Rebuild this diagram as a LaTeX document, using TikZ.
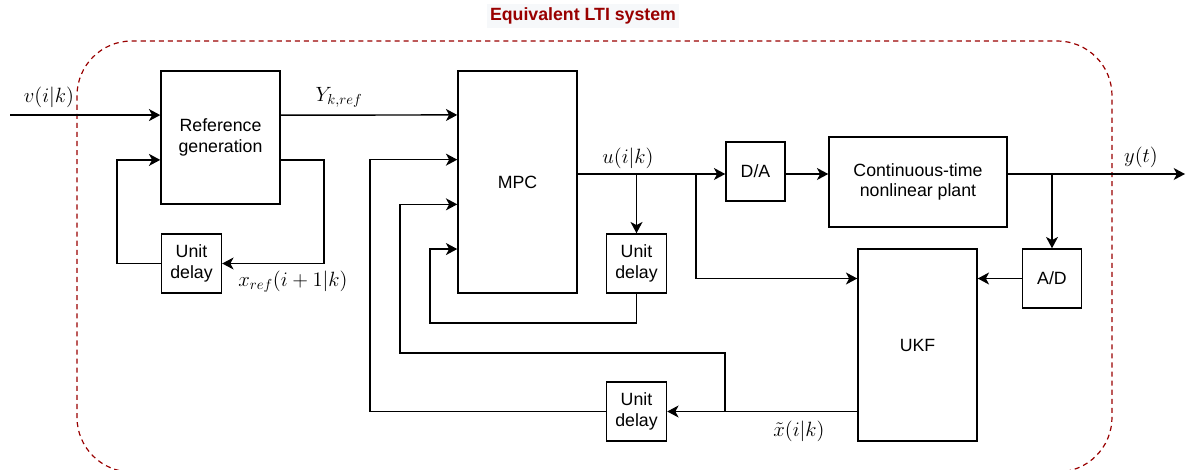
\RequirePackage{fix-cm}
\documentclass[tikz,border=0pt]{standalone}
\usepackage{fontspec}
\setmainfont{Liberation Sans}
\usetikzlibrary{arrows.meta, positioning, calc}
\definecolor{ltired}{HTML}{990000}
\definecolor{titlebg}{HTML}{F6F8FA}

\begin{document}
\begin{tikzpicture}[
  x=0.75pt, y=-0.75pt,
  font=\fontsize{13.3}{15.3}\selectfont,
  blk/.style  ={draw, line width=1.1pt, align=center, inner sep=1pt},
  dly/.style  ={blk, minimum width=45pt, minimum height=44.25pt},
  conv/.style ={blk, minimum width=44.25pt, minimum height=44.25pt},
  % signal lines ---------------------------------------------------
  arr/.style  ={line width=1.1pt, -{Stealth[length=8.5pt, width=9pt, inset=2.4pt]}},
  lbl/.style  ={font=\fontsize{15.5}{18}\selectfont, inner sep=1pt},
]
\useasboundingbox (0,0) rectangle (1188,470);

% =========================== FRAME ==================================
\draw[ltired, line width=0.9pt, dash pattern=on 3.8pt off 3pt,
      rounded corners=41pt] (77,41) rectangle (1112,472);
\node[font=\fontsize{13.3}{16}\selectfont\bfseries, text=ltired,
      fill=titlebg, inner sep=2.5pt] (title) at (583,16) {Equivalent LTI system};

% =========================== BLOCKS =================================
\node[blk, minimum width=89.25pt, minimum height=99.75pt] (ref) at (220.5,137.5) {Reference\\generation};
\node[blk, minimum width=89.25pt, minimum height=166.5pt] (mpc) at (517.5,182) {MPC};
\node[dly]  (ud1) at (191.5,263.5) {Unit\\delay};
\node[dly]  (ud2) at (636.5,263.5) {Unit\\delay};
\node[dly]  (ud3) at (636.5,411.5) {Unit\\delay};
\node[conv] (da)  at (755.5,171.5) {D/A};
\node[blk, minimum width=133.5pt, minimum height=67.5pt] (plant) at (918,182) {Continuous-time\\nonlinear plant};
\node[blk, minimum width=89.25pt, minimum height=144pt] (ukf) at (917.5,345) {UKF};
\node[conv] (ad)  at (1052,278.5) {A/D};

% ======================= PORTS / BENDS ==============================
\coordinate (ri1) at ($(ref.north west)!1/3!(ref.south west)$);
\coordinate (ri2) at ($(ref.north west)!2/3!(ref.south west)$);
\coordinate (mi1) at ($(mpc.north west)!0.2!(mpc.south west)$);
\coordinate (mi2) at ($(mpc.north west)!0.4!(mpc.south west)$);
\coordinate (mi3) at ($(mpc.north west)!0.6!(mpc.south west)$);
\coordinate (mi4) at ($(mpc.north west)!0.8!(mpc.south west)$);
\coordinate (urow) at (0,174);
\coordinate (vin)  at (10,0);
\coordinate (yout) at (1185,0);
\coordinate (fb1)  at (324,263.5);
\coordinate (fb2)  at (117,0);
\coordinate (fb3)  at (430,323);
\coordinate (fb4)  at (400,353);
\coordinate (fb5)  at (370,0);
\coordinate (tapu) at (696,0);
\coordinate (tapx) at (725,0);

% ===================== REFERENCE GENERATION =========================
\draw[arr] (vin |- ri1) -- (ri1);
\draw[arr] (ri1 -| ref.east) -- (mi1);
\draw[arr] (ri2 -| ref.east) -| (fb1) -- (ud1.east);
\draw[arr] (ud1.west) -| (ri2 -| fb2) -- (ri2);

% ========================= CONTROL PATH =============================
\draw[arr] (mpc.east |- urow) -- (da.west |- urow);
\draw[arr] (ud2.north |- urow) -- (ud2.north);
\draw[arr] (tapu |- urow) |- (ukf.west |- ad.west);
\draw[arr] (da.east |- urow) -- (plant.west |- urow);
\draw[arr] (plant.east |- urow) -- (yout |- urow);
\draw[arr] (ad.north |- urow) -- (ad.north);
\draw[arr] (ad.west) -- (ukf.east |- ad.west);

% ======================= FEEDBACK TO MPC ============================
\draw[arr] (ud2.south) |- (fb3) |- (mi4);
\draw[arr] (ukf.west |- ud3.east) -- (ud3.east);
\draw[arr] (tapx |- ud3.east) |- (fb4) |- (mi3);
\draw[arr] (ud3.west) -| (mi2 -| fb5) -- (mi2);

% =========================== LABELS =================================
\node[lbl] (lv)  at (49,97)   {$v(i|k)$};
\node[lbl] (lY)  at (339,97)  {$Y_{k,ref}$};
\node[lbl] (lx)  at (293,282) {$x_{ref}(i+1|k)$};
\node[lbl] (lu)  at (628,158) {$u(i|k)$};
\node[lbl] (ly)  at (1141,157) {$y(t)$};
\node[lbl] (lxt) at (799,431) {$\tilde{x}(i|k)$};

\end{tikzpicture}
\end{document}
